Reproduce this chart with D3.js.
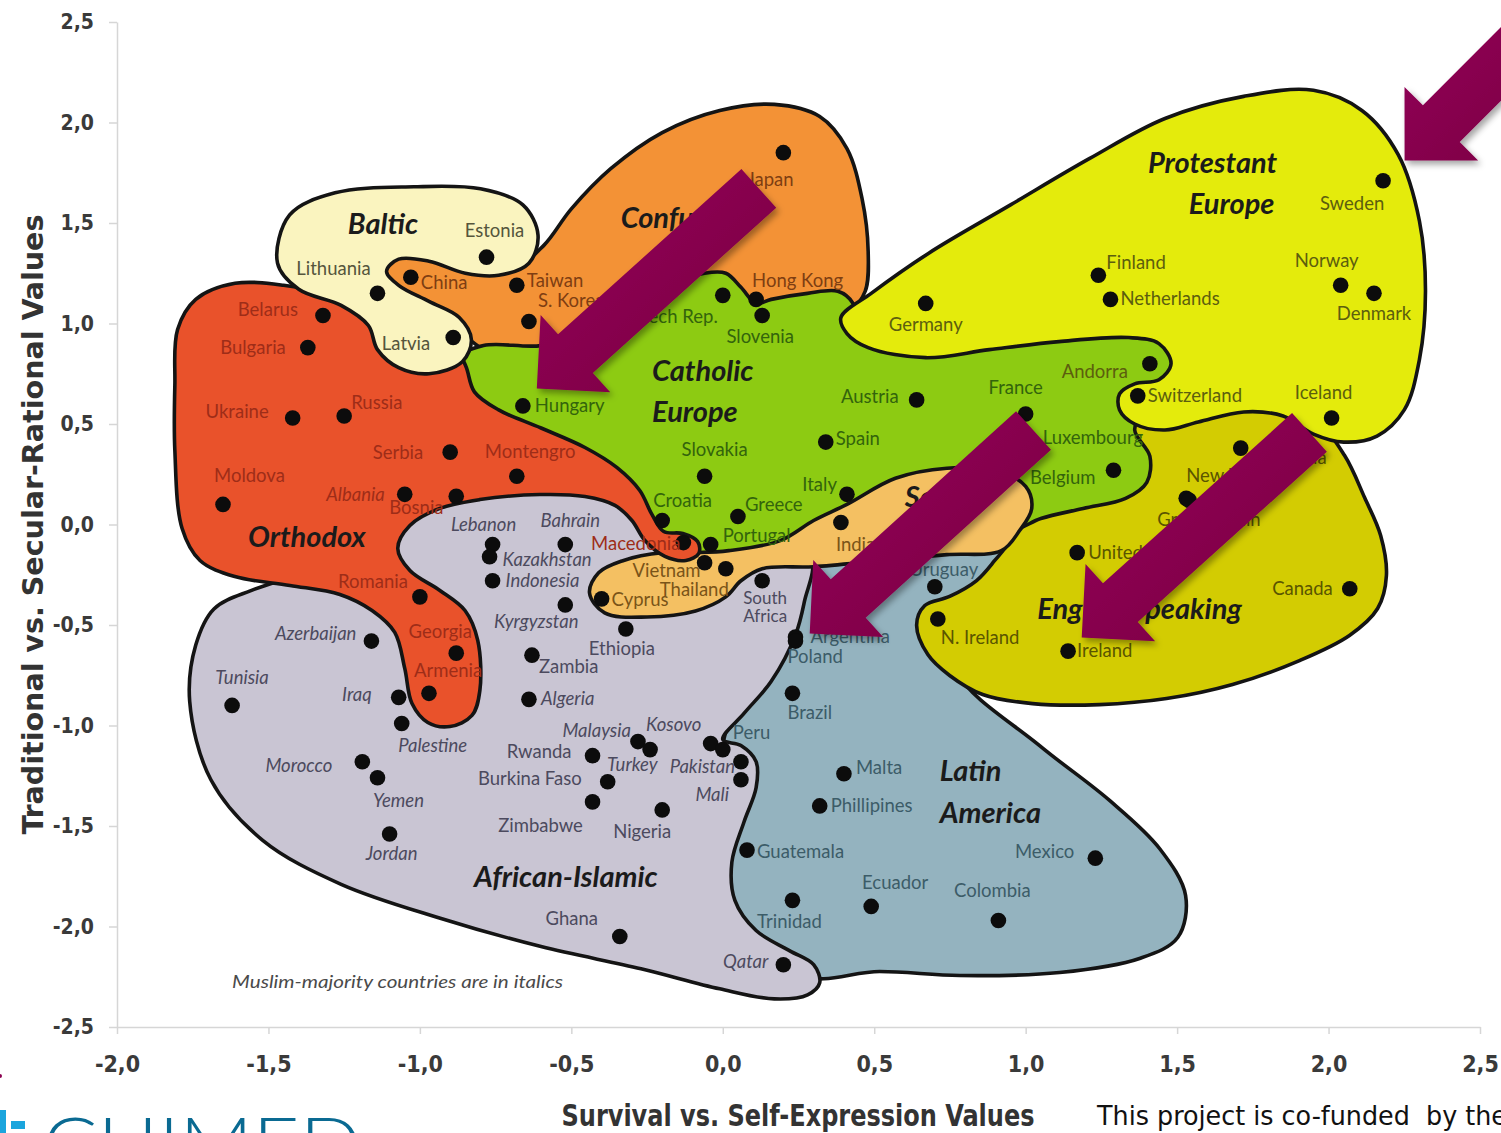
<!DOCTYPE html>
<html>
<head>
<meta charset="utf-8">
<script src="https://cdn.jsdelivr.net/npm/d3@7"></script>
<style>
  body { margin: 0; background: #fff; }
  svg { display: block; }
</style>
</head>
<body>
<div id="chart"></div>
<script>
// ---- axis ticks ----
const xTicks = [-2, -1.5, -1, -0.5, 0, 0.5, 1, 1.5, 2, 2.5];
const yTicks = [-2.5, -2, -1.5, -1, -0.5, 0, 0.5, 1, 1.5, 2, 2.5];

// ---- countries: [name, survival/self-expression, traditional/secular] ----
const protestant = [["Sweden", 2.18, 1.71], ["Finland", 1.24, 1.24], ["Netherlands", 1.28, 1.12], ["Norway", 2.04, 1.19],
  ["Denmark", 2.15, 1.15], ["Germany", 0.67, 1.10], ["Andorra", 1.41, 0.80], ["Switzerland", 1.37, 0.64], ["Iceland", 2.01, 0.53]];
const catholic = [["Czech Rep.", 0.00, 1.14], ["Slovenia", 0.13, 1.04], ["Hungary", -0.66, 0.59], ["Austria", 0.64, 0.62],
  ["France", 1.00, 0.55], ["Spain", 0.34, 0.41], ["Luxembourg", 1.01, 0.42], ["Belgium", 1.29, 0.27], ["Slovakia", -0.06, 0.24],
  ["Italy", 0.41, 0.15], ["Greece", 0.05, 0.04], ["Croatia", -0.20, 0.02], ["Portugal", -0.04, -0.10]];
const confucian = [["Japan", 0.20, 1.85], ["Hong Kong", 0.11, 1.12], ["China", -1.03, 1.23], ["Taiwan", -0.68, 1.19], ["S. Korea", -0.64, 1.01]];
const baltic = [["Estonia", -0.78, 1.33], ["Lithuania", -1.14, 1.15], ["Latvia", -0.89, 0.93]];
const orthodox = [["Belarus", -1.32, 1.04], ["Bulgaria", -1.37, 0.88], ["Ukraine", -1.42, 0.53], ["Russia", -1.25, 0.54],
  ["Serbia", -0.90, 0.36], ["Montengro", -0.68, 0.24], ["Moldova", -1.65, 0.10], ["Albania", -1.05, 0.15], ["Bosnia", -0.88, 0.14],
  ["Romania", -1.00, -0.36], ["Georgia", -0.88, -0.64], ["Armenia", -0.97, -0.84], ["Macedonia", -0.13, -0.09]];
const islamic = [["Lebanon", -0.76, -0.10], ["Kazakhstan", -0.77, -0.16], ["Bahrain", -0.52, -0.10], ["Indonesia", -0.76, -0.28],
  ["Kyrgyzstan", -0.52, -0.40], ["Ethiopia", -0.32, -0.52], ["Zambia", -0.63, -0.65], ["Algeria", -0.64, -0.87],
  ["Azerbaijan", -1.16, -0.58], ["Tunisia", -1.62, -0.90], ["Iraq", -1.07, -0.86], ["Palestine", -1.06, -0.99],
  ["Morocco", -1.19, -1.18], ["Yemen", -1.14, -1.26], ["Jordan", -1.10, -1.54], ["Rwanda", -0.43, -1.15],
  ["Burkina Faso", -0.38, -1.28], ["Zimbabwe", -0.43, -1.38], ["Malaysia", -0.28, -1.08], ["Turkey", -0.24, -1.12],
  ["Kosovo", -0.04, -1.09], ["Nigeria", -0.20, -1.42], ["Pakistan", 0.06, -1.18], ["Mali", 0.06, -1.27],
  ["Ghana", -0.34, -2.05], ["Qatar", 0.20, -2.19], ["South Africa", 0.13, -0.28]];
const latin = [["Peru", 0.00, -1.12], ["Argentina", 0.24, -0.56], ["Poland", 0.24, -0.58], ["Brazil", 0.23, -0.84],
  ["Malta", 0.40, -1.24], ["Phillipines", 0.32, -1.40], ["Guatemala", 0.08, -1.62], ["Trinidad", 0.23, -1.87],
  ["Ecuador", 0.49, -1.90], ["Colombia", 0.91, -1.97], ["Mexico", 1.23, -1.66], ["Uruguay", 0.70, -0.31]];
const english = [["United States", 1.17, -0.14], ["N. Ireland", 0.71, -0.47], ["Ireland", 1.14, -0.63], ["Canada", 2.07, -0.32],
  ["New Zealand", 1.53, 0.13], ["Great Britain", 1.54, 0.12], ["Australia", 1.71, 0.38]];
const southAsia = [["India", 0.39, 0.01], ["Vietnam", -0.06, -0.19], ["Thailand", 0.01, -0.22], ["Cyprus", -0.40, -0.37]];

// names set in italics (Muslim-majority)
const muslim = ["Albania", "Lebanon", "Kazakhstan", "Bahrain", "Indonesia", "Kyrgyzstan", "Algeria", "Azerbaijan", "Tunisia",
  "Iraq", "Palestine", "Morocco", "Yemen", "Jordan", "Malaysia", "Turkey", "Kosovo", "Pakistan", "Mali", "Qatar"];

// ---- zone outlines, in chart units ----
const latinShape = [[0.254,-0.179],[0.518,-0.104],[0.865,-0.055],[0.98,-0.254],[0.782,-0.577],[0.782,-0.751],[1.046,-1.10],
  [1.277,-1.373],[1.442,-1.612],[1.528,-1.846],[1.502,-2.055],[1.376,-2.159],[1.112,-2.229],[0.782,-2.244],[0.518,-2.224],
  [0.254,-2.244],[0.007,-1.871],[-0.01,-1.174],[0.122,-0.577]];
const englishShape = [[0.64,-0.50],[0.667,-0.403],[0.749,-0.358],[0.838,-0.279],[0.898,-0.179],[0.947,-0.08],[0.98,0.119],
  [1.178,0.219],[1.31,0.468],[1.442,0.567],[1.739,0.617],[1.97,0.493],[2.053,0.343],[2.119,0.134],[2.172,-0.055],[2.191,-0.254],
  [2.162,-0.418],[2.069,-0.552],[1.904,-0.677],[1.683,-0.796],[1.465,-0.866],[1.244,-0.896],[1.023,-0.891],[0.858,-0.846],
  [0.749,-0.751],[0.677,-0.647]];
const confucianShape = [[-1.12,1.26],[-1.03,1.36],[-0.84,1.34],[-0.67,1.30],[-0.59,1.39],[-0.50,1.57],[-0.37,1.77],[-0.20,1.95],
  [-0.01,2.06],[0.17,2.09],[0.32,2.03],[0.41,1.87],[0.46,1.62],[0.48,1.36],[0.47,1.16],[0.42,1.07],[0.12,1.02],[-0.34,0.92],
  [-0.74,0.84],[-0.88,0.97],[-1.00,1.09],[-1.10,1.17]];
const catholicShape = [[-0.88,0.82],[-0.79,0.89],[-0.60,0.89],[-0.44,0.96],[-0.31,1.07],[-0.18,1.19],[-0.06,1.25],[0.01,1.25],
  [0.06,1.18],[0.11,1.10],[0.16,1.12],[0.28,1.15],[0.38,1.16],[0.43,1.10],[0.45,0.94],[0.75,0.94],[1.18,0.99],[1.50,0.89],
  [1.51,0.74],[1.39,0.57],[1.36,0.47],[1.41,0.34],[1.40,0.21],[1.33,0.13],[1.19,0.08],[1.05,0.03],[0.95,-0.03],[0.58,0.07],
  [0.25,-0.08],[0.06,-0.17],[-0.11,-0.23],[-0.21,-0.10],[-0.27,0.07],[-0.41,0.27],[-0.64,0.42],[-0.84,0.62]];
const protestantShape = [[0.39,1.03],[0.49,1.15],[0.68,1.35],[0.95,1.59],[1.21,1.82],[1.46,2.02],[1.72,2.13],[1.95,2.16],
  [2.11,2.06],[2.23,1.84],[2.30,1.51],[2.32,1.16],[2.30,0.82],[2.25,0.57],[2.16,0.44],[2.05,0.41],[1.95,0.45],[1.85,0.54],
  [1.72,0.56],[1.57,0.51],[1.46,0.47],[1.36,0.50],[1.31,0.57],[1.31,0.65],[1.36,0.70],[1.44,0.72],[1.48,0.80],[1.44,0.90],
  [1.34,0.93],[1.11,0.91],[0.88,0.87],[0.67,0.83],[0.48,0.88],[0.41,0.95]];
const islamicShape = [[-1.76,-0.88],[-1.74,-0.60],[-1.68,-0.42],[-1.56,-0.33],[-1.43,-0.27],[-1.23,-0.23],[-1.08,0.12],
  [-0.90,0.23],[-0.60,0.25],[-0.37,0.22],[-0.27,0.12],[-0.24,-0.005],[-0.19,-0.10],[-0.11,-0.20],[0.09,-0.17],[0.29,-0.18],
  [0.27,-0.38],[0.24,-0.55],[0.16,-0.78],[0.07,-0.94],[0.00,-1.07],[0.06,-1.10],[0.11,-1.18],[0.11,-1.31],[0.07,-1.48],
  [0.03,-1.68],[0.04,-1.87],[0.11,-2.02],[0.22,-2.12],[0.30,-2.19],[0.32,-2.28],[0.28,-2.34],[0.17,-2.36],[-0.01,-2.31],
  [-0.27,-2.21],[-0.60,-2.10],[-0.93,-1.96],[-1.26,-1.79],[-1.52,-1.57],[-1.69,-1.27]];
const southAsiaShape = [[-0.44,-0.34],[-0.41,-0.24],[-0.33,-0.18],[-0.20,-0.14],[-0.09,-0.14],[0.02,-0.13],[0.19,-0.08],
  [0.30,0.02],[0.41,0.10],[0.57,0.23],[0.74,0.28],[0.90,0.27],[1.00,0.19],[1.02,0.08],[0.98,-0.03],[0.92,-0.13],[0.74,-0.15],
  [0.52,-0.18],[0.30,-0.21],[0.13,-0.22],[0.06,-0.28],[0.01,-0.36],[-0.09,-0.43],[-0.25,-0.46],[-0.39,-0.44]];
const orthodoxShape = [[-1.80,0.97],[-1.74,1.12],[-1.61,1.20],[-1.45,1.19],[-1.30,1.14],[-1.15,1.04],[-0.97,0.92],
  [-0.875,0.856],[-0.848,0.786],[-0.82,0.66],[-0.74,0.57],[-0.60,0.48],[-0.455,0.383],[-0.35,0.284],[-0.274,0.169],
  [-0.234,0.05],[-0.195,-0.035],[-0.132,-0.045],[-0.083,-0.085],[-0.079,-0.144],[-0.122,-0.179],[-0.191,-0.159],
  [-0.257,-0.08],[-0.30,0.02],[-0.356,0.095],[-0.455,0.139],[-0.604,0.149],[-0.802,0.124],[-0.934,0.08],[-1.033,-0.005],
  [-1.073,-0.119],[-1.033,-0.229],[-0.934,-0.328],[-0.851,-0.428],[-0.809,-0.577],[-0.802,-0.826],[-0.828,-0.95],
  [-0.901,-1.005],[-0.974,-0.985],[-1.026,-0.891],[-1.05,-0.716],[-1.083,-0.537],[-1.158,-0.428],[-1.264,-0.348],
  [-1.429,-0.303],[-1.611,-0.259],[-1.726,-0.179],[-1.785,-0.02],[-1.809,0.368],[-1.809,0.692]];
const balticShape = [[-1.47,1.30],[-1.43,1.54],[-1.28,1.65],[-1.02,1.68],[-0.80,1.67],[-0.66,1.59],[-0.61,1.44],[-0.64,1.30],
  [-0.74,1.24],[-0.85,1.25],[-0.97,1.31],[-1.07,1.32],[-1.11,1.26],[-1.07,1.19],[-0.97,1.11],[-0.87,1.03],[-0.83,0.92],
  [-0.86,0.81],[-0.97,0.75],[-1.07,0.78],[-1.14,0.87],[-1.17,0.99],[-1.26,1.09],[-1.40,1.17]];

// zone titles: [text, x, y, anchor]
const titles = [["Protestant", 1.617, 1.751, "middle"], ["Europe", 1.680, 1.547, "middle"], ["Baltic", -1.122, 1.443, "middle"],
  ["Confucian", -0.337, 1.473, "start"], ["Catholic", -0.066, 0.716, "middle"], ["Europe", -0.092, 0.512, "middle"],
  ["Orthodox", -1.373, -0.114, "middle"], ["African-Islamic", -0.518, -1.801, "middle"], ["Latin", 0.716, -1.274, "start"],
  ["America", 0.716, -1.483, "start"], ["English Speaking", 1.376, -0.468, "middle"], ["South", 0.601, 0.085, "start"],
  ["Asia", 0.568, -0.070, "start"]];

// arrows: [tipX, tipY, tailX, tailY]
const arrows = [[-0.614, 0.677, 0.119, 1.672], [2.251, 1.811, 2.828, 2.682], [0.287, -0.542, 1.026, 0.468], [1.185, -0.562, 1.937, 0.458]];

// ---- layout / style tables ----
const zoneStyle = {
  latin: { fill: "#94B3BF", ink: "#3C5C68" },
  english: { fill: "#D3CC02", ink: "#5A5500" },
  confucian: { fill: "#F39236", ink: "#7E3E12" },
  catholic: { fill: "#8DCB12", ink: "#33640C" },
  protestant: { fill: "#E4EB0C", ink: "#5C5E0E" },
  islamic: { fill: "#C9C5D3", ink: "#4C4A5E" },
  southAsia: { fill: "#F4C062", ink: "#7A5418" },
  orthodox: { fill: "#E9522B", ink: "#9E2D18" },
  baltic: { fill: "#FAF4BF", ink: "#55553C" }
};

// label offset from its dot, in pixels: [dx, dy, anchor]
const labelAt = {
  "Sweden": [-31, 29, "middle"], "Finland": [8, -6, "start"], "Netherlands": [10, 6, "start"], "Norway": [-14, -18, "middle"],
  "Denmark": [0, 27, "middle"], "Germany": [0, 28, "middle"], "Andorra": [-22, 14, "end"], "Switzerland": [10, 6, "start"],
  "Iceland": [-8, -19, "middle"],
  "Czech Rep.": [-5, 28, "end"], "Slovenia": [-2, 28, "middle"], "Hungary": [12, 6, "start"], "Austria": [-18, 3, "end"],
  "France": [-10, -20, "middle"], "Spain": [10, 3, "start"], "Luxembourg": [14, 4, "start"], "Belgium": [-18, 14, "end"],
  "Slovakia": [10, -20, "middle"], "Italy": [-10, -3, "end"], "Greece": [7, -5, "start"], "Croatia": [-9, -13, "start"],
  "Portugal": [12, -3, "start"],
  "Japan": [-13, 33, "middle"], "Hong Kong": [-4, -12, "start"], "China": [10, 12, "start"], "Taiwan": [10, 2, "start"],
  "S. Korea": [9, -14, "start"],
  "Estonia": [8, -20, "middle"], "Lithuania": [-44, -18, "middle"], "Latvia": [-23, 12, "end"],
  "Belarus": [-25, 1, "end"], "Bulgaria": [-22, 6, "end"], "Ukraine": [-24, 0, "end"], "Russia": [7, -7, "start"],
  "Serbia": [-27, 7, "end"], "Montengro": [-32, -18, "start"], "Moldova": [-9, -22, "start"], "Albania": [-20, 7, "end"],
  "Bosnia": [-67, 18, "start"], "Romania": [-12, -9, "end"], "Georgia": [-16, -15, "middle"], "Armenia": [-15, -16, "start"],
  "Macedonia": [-3, 7, "end"],
  "Lebanon": [-9, -14, "middle"], "Kazakhstan": [13, 9, "start"], "Bahrain": [5, -18, "middle"], "Indonesia": [13, 6, "start"],
  "Kyrgyzstan": [-29, 23, "middle"], "Ethiopia": [-4, 26, "middle"], "Zambia": [7, 18, "start"], "Algeria": [12, 6, "start"],
  "Azerbaijan": [-15, -1, "end"], "Tunisia": [10, -21, "middle"], "Iraq": [-27, 4, "end"], "Palestine": [31, 29, "middle"],
  "Morocco": [-30, 10, "end"], "Yemen": [21, 29, "middle"], "Jordan": [2, 26, "middle"], "Rwanda": [-21, 2, "end"],
  "Burkina Faso": [-26, 3, "end"], "Zimbabwe": [-52, 30, "middle"], "Malaysia": [-7, -5, "end"], "Turkey": [-43, 21, "start"],
  "Kosovo": [-37, -13, "middle"], "Nigeria": [-20, 28, "middle"], "Pakistan": [-6, 11, "end"], "Mali": [-12, 21, "end"],
  "Ghana": [-48, -12, "middle"], "Qatar": [-15, 3, "end"], "South Africa": [3, 23, "middle"],
  "Peru": [10, -11, "start"], "Argentina": [15, 6, "start"], "Poland": [-8, 22, "start"], "Brazil": [-5, 26, "start"],
  "Malta": [12, 0, "start"], "Phillipines": [11, 6, "start"], "Guatemala": [10, 8, "start"], "Trinidad": [-3, 28, "middle"],
  "Ecuador": [24, -17, "middle"], "Colombia": [-6, -23, "middle"], "Mexico": [-21, 0, "end"], "Uruguay": [9, -11, "middle"],
  "United States": [11, 6, "start"], "N. Ireland": [3, 25, "start"], "Ireland": [9, 6, "start"], "Canada": [-17, 6, "end"],
  "New Zealand": [0, -16, "start"], "Great Britain": [-32, 26, "start"], "Australia": [15, 16, "start"],
  "India": [-5, 29, "start"], "Vietnam": [-4, 14, "end"], "Thailand": [3, 27, "end"], "Cyprus": [10, 7, "start"]
};
// two-line labels: lines and line gap in pixels
const splitLabel = { "South Africa": ["South", "Africa"] };
const splitGap = 18;

const W = 1501, H = 1133;
const margin = { top: 22, right: 21, bottom: 106, left: 117 };
const labelFont = "Lato, 'Open Sans', sans-serif";
const narrowFont = "'Liberation Sans Narrow', 'DejaVu Sans Condensed', 'Liberation Sans', sans-serif";

const x = d3.scaleLinear().domain([-2, 2.5]).range([margin.left, W - margin.right]);
const y = d3.scaleLinear().domain([-2.5, 2.5]).range([H - margin.bottom, margin.top]);
const fmt = d => d.toFixed(1).replace(".", ",");

const svg = d3.select("#chart").append("svg").attr("width", W).attr("height", H);

const defs = svg.append("defs");
const shadow = defs.append("filter").attr("id", "shadow").attr("x", "-20%").attr("y", "-20%").attr("width", "140%").attr("height", "140%");
shadow.append("feDropShadow").attr("dx", 3).attr("dy", 4).attr("stdDeviation", 3).attr("flood-color", "#000").attr("flood-opacity", 0.35);
const grad = defs.append("linearGradient").attr("id", "arrowFill").attr("x1", 0).attr("y1", 0).attr("x2", 1).attr("y2", 1);
grad.append("stop").attr("offset", "0%").attr("stop-color", "#96005C");
grad.append("stop").attr("offset", "100%").attr("stop-color", "#77003F");

// ---- axes ----
const xAxis = svg.append("g").attr("transform", `translate(0,${y(-2.5)})`)
  .call(d3.axisBottom(x).tickValues(xTicks).tickFormat(fmt).tickSize(7).tickSizeOuter(0).tickPadding(22));
const yAxis = svg.append("g").attr("transform", `translate(${x(-2)},0)`)
  .call(d3.axisLeft(y).tickValues(yTicks).tickFormat(fmt).tickSize(8).tickSizeOuter(0).tickPadding(15));
[xAxis, yAxis].forEach(g => {
  g.select(".domain").attr("stroke", "#D6D6D6").attr("stroke-width", 1.5);
  g.selectAll(".tick line").attr("stroke", "#D6D6D6").attr("stroke-width", 1.5);
  g.selectAll(".tick text").attr("fill", "#3a3a3a").style("font-family", narrowFont).style("font-weight", "bold");
});
xAxis.selectAll(".tick text").style("font-size", "23px");
yAxis.selectAll(".tick text").style("font-size", "21px");

svg.append("text").attr("x", 798).attr("y", 1126).attr("text-anchor", "middle")
  .attr("textLength", 473).attr("lengthAdjust", "spacingAndGlyphs")
  .style("font-family", narrowFont).style("font-weight", "bold").style("font-size", "31px").attr("fill", "#333")
  .text("Survival vs. Self-Expression Values");
svg.append("text").attr("transform", `translate(43,${y(0)}) rotate(-90)`).attr("text-anchor", "middle")
  .attr("textLength", 620).attr("lengthAdjust", "spacingAndGlyphs")
  .style("font-family", narrowFont).style("font-weight", "bold").style("font-size", "29px").attr("fill", "#333")
  .text("Traditional vs. Secular-Rational Values");

// ---- zones, bottom to top ----
const outline = d3.line().x(d => x(d[0])).y(d => y(d[1])).curve(d3.curveCatmullRomClosed.alpha(0.5));
const zoneOrder = [["latin", latinShape], ["english", englishShape], ["confucian", confucianShape], ["catholic", catholicShape],
  ["protestant", protestantShape], ["islamic", islamicShape], ["southAsia", southAsiaShape], ["orthodox", orthodoxShape],
  ["baltic", balticShape]];
svg.append("g").selectAll("path").data(zoneOrder).join("path")
  .attr("d", d => outline(d[1]))
  .attr("fill", d => zoneStyle[d[0]].fill)
  .attr("stroke", "#141414").attr("stroke-width", 3.6).attr("stroke-linejoin", "round");

// ---- dots and labels ----
const zonesData = [["protestant", protestant], ["catholic", catholic], ["confucian", confucian], ["baltic", baltic],
  ["orthodox", orthodox], ["islamic", islamic], ["latin", latin], ["english", english], ["southAsia", southAsia]];
const gDots = svg.append("g");
const gLabels = svg.append("g").style("font-family", labelFont).style("font-size", "18.5px");
zonesData.forEach(([zone, list]) => {
  gDots.selectAll(null).data(list).join("circle")
    .attr("cx", d => x(d[1])).attr("cy", d => y(d[2])).attr("r", 7.8).attr("fill", "#0c0c0c");
  list.forEach(d => {
    const at = labelAt[d[0]] || [10, 6, "start"];
    const lines = splitLabel[d[0]] || [d[0]];
    lines.forEach((line, i) => {
      gLabels.append("text")
        .attr("x", x(d[1]) + at[0])
        .attr("y", y(d[2]) + at[1] + i * splitGap)
        .attr("text-anchor", at[2])
        .attr("fill", zoneStyle[zone].ink)
        .style("font-size", lines.length > 1 ? "17px" : null)
        .style("font-style", muslim.includes(d[0]) ? "italic" : "normal")
        .text(line);
    });
  });
});

// zone titles
svg.append("g").selectAll("text").data(titles).join("text")
  .attr("x", d => x(d[1])).attr("y", d => y(d[2])).attr("text-anchor", d => d[3])
  .style("font-family", labelFont).style("font-weight", "bold").style("font-style", "italic").style("font-size", "29px")
  .attr("fill", "#1b1b1b").text(d => d[0]);

svg.append("text").attr("x", x(-1.62)).attr("y", y(-2.308)).attr("textLength", 331).attr("lengthAdjust", "spacingAndGlyphs")
  .style("font-family", labelFont).style("font-style", "italic").style("font-size", "18px").attr("fill", "#4a4a4a")
  .text("Muslim-majority countries are in italics");

// ---- arrows ----
const headLen = 52, headHalf = 52, shaftHalf = 26;
function arrowPoints(a) {
  const tx = x(a[0]), ty = y(a[1]), sx = x(a[2]), sy = y(a[3]);
  const len = Math.hypot(sx - tx, sy - ty);
  const dx = (sx - tx) / len, dy = (sy - ty) / len;
  const nx = -dy, ny = dx;
  const bx = tx + dx * headLen, by = ty + dy * headLen;
  return [[tx, ty], [bx + nx * headHalf, by + ny * headHalf], [bx + nx * shaftHalf, by + ny * shaftHalf],
    [sx + nx * shaftHalf, sy + ny * shaftHalf], [sx - nx * shaftHalf, sy - ny * shaftHalf],
    [bx - nx * shaftHalf, by - ny * shaftHalf], [bx - nx * headHalf, by - ny * headHalf]];
}
svg.append("g").attr("filter", "url(#shadow)").selectAll("polygon").data(arrows).join("polygon")
  .attr("points", d => arrowPoints(d).map(p => p.join(",")).join(" "))
  .attr("fill", "url(#arrowFill)");

// ---- footer ----
svg.append("text").attr("x", 1097).attr("y", 1125).attr("textLength", 410).attr("lengthAdjust", "spacingAndGlyphs")
  .style("font-family", narrowFont).style("font-size", "27px").style("white-space", "pre").attr("fill", "#111")
  .text("This project is co-funded  by the");
const logo = svg.append("g");
logo.append("rect").attr("x", 0).attr("y", 1110).attr("width", 6).attr("height", 30).attr("fill", "#1BA5DD");
logo.append("rect").attr("x", 11).attr("y", 1121).attr("width", 14).attr("height", 8).attr("fill", "#1BA5DD");
logo.append("text").attr("x", 43).attr("y", 1168).attr("textLength", 318).attr("lengthAdjust", "spacingAndGlyphs")
  .style("font-family", labelFont).style("font-weight", 300).style("font-size", "70px").attr("fill", "#0A6A92")
  .text("CHIMED");
logo.append("circle").attr("cx", 0).attr("cy", 1076).attr("r", 2).attr("fill", "#8B0051");
</script>
</body>
</html>
